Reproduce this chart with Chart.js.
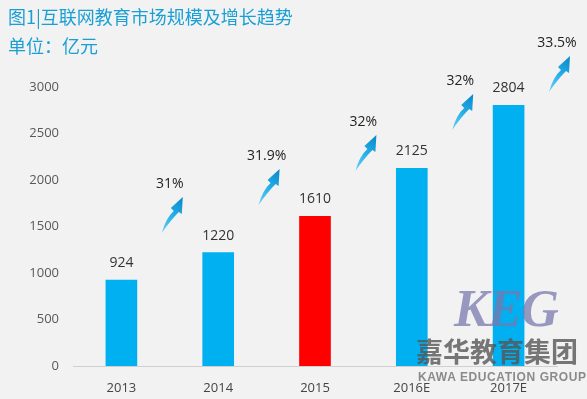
<!DOCTYPE html>
<html>
<head>
<meta charset="utf-8">
<script src="https://cdn.jsdelivr.net/npm/chart.js@4/dist/chart.umd.min.js"></script>
<style>
	body { margin: 0; background: #f2f2f2; }
	#wrap { position: relative; width: 587px; height: 399px; overflow: hidden; }
	#chart { position: absolute; left: 0; top: 0; }
	.ttl { position: absolute; left: 8px; color: #1a9fd5; font-family: "Noto Sans CJK SC", sans-serif; font-size: 18px; white-space: nowrap; }
	.wm { position: absolute; white-space: nowrap; pointer-events: none; }
</style>
</head>
<body>
<div id="wrap">
	<canvas id="chart" width="587" height="399"></canvas>
	<div class="ttl" style="top:3px;">图1|互联网教育市场规模及增长趋势</div>
	<div class="ttl" style="top:32px;">单位：亿元</div>
	<div class="wm" style="left:454px;top:279px;font:italic bold 52px 'Liberation Serif';color:rgba(120,120,175,0.75);letter-spacing:-1px;">KEG</div>
	<div class="wm" style="left:416px;top:331px;font:bold 27px 'Noto Sans CJK SC';color:rgba(85,85,85,0.8);">嘉华教育集团</div>
	<div class="wm" style="left:418px;top:370px;font:bold 12px 'Liberation Sans';color:rgba(120,120,120,0.85);letter-spacing:0.6px;">KAWA EDUCATION GROUP</div>
</div>
<script>
var years = ["2013", "2014", "2015", "2016E", "2017E"];
var marketSize = [924, 1220, 1610, 2125, 2804];
var growthLabels = ["31%", "31.9%", "32%", "32%", "33.5%"];
var yTicks = [0, 500, 1000, 1500, 2000, 2500, 3000];

var barColors = [];
for (var i = 0; i < years.length; i++) {
	barColors.push(years[i] == "2015" ? "#ff0000" : "#00b0f0");
}

// value labels above bars
var valueLabels = {
	id: "valueLabels",
	afterDatasetsDraw: function (chart) {
		var ctx = chart.ctx;
		var meta = chart.getDatasetMeta(0);
		ctx.save();
		ctx.font = "14px 'Open Sans'";
		ctx.fillStyle = "#333333";
		ctx.textAlign = "center";
		ctx.textBaseline = "middle";
		meta.data.forEach(function (bar, i) {
			ctx.fillText(marketSize[i], bar.x, bar.y - 17);
		});
		ctx.restore();
	}
};

// growth arrows between bars
var growthArrows = {
	id: "growthArrows",
	afterDraw: function (chart) {
		var ctx = chart.ctx;
		var xs = chart.scales.x;
		var ys = chart.scales.y;
		var step = xs.getPixelForValue(1) - xs.getPixelForValue(0);
		var levels = [1957, 2258, 2624, 3065, 3473];
		ctx.save();
		for (var i = 0; i < growthLabels.length; i++) {
			var cx = xs.getPixelForValue(i) + step / 2;
			var cy = ys.getPixelForValue(levels[i]);

			var g = ctx.createLinearGradient(cx - 7, cy + 49, cx + 13, cy + 13);
			g.addColorStop(0, "#6fd0f7");
			g.addColorStop(0.5, "#22aee8");
			g.addColorStop(1, "#0b86c8");
			ctx.fillStyle = g;
			ctx.beginPath();
			ctx.moveTo(cx - 8, cy + 49);
			ctx.quadraticCurveTo(cx - 4, cy + 34, cx + 4, cy + 27);
			ctx.lineTo(cx + 1, cy + 24);
			ctx.lineTo(cx + 13, cy + 13);
			ctx.lineTo(cx + 12, cy + 30);
			ctx.lineTo(cx + 9, cy + 28);
			ctx.quadraticCurveTo(cx + 1, cy + 36, cx - 8, cy + 49);
			ctx.closePath();
			ctx.fill();

			ctx.font = "14px 'Open Sans'";
			ctx.fillStyle = "#222222";
			ctx.textAlign = "center";
			ctx.textBaseline = "middle";
			ctx.fillText(growthLabels[i], cx, cy);
		}
		ctx.restore();
	}
};

var bgPlugin = {
	id: "bg",
	beforeDraw: function (chart) {
		var ctx = chart.ctx;
		ctx.save();
		ctx.fillStyle = "#f2f2f2";
		ctx.fillRect(0, 0, chart.width, chart.height);
		ctx.restore();
	}
};

var ctxa = document.getElementById("chart").getContext("2d");
var barChart = new Chart(ctxa, {
	type: "bar",
	data: {
		labels: years,
		datasets: [
			{
				label: "市场规模",
				data: marketSize,
				backgroundColor: barColors,
				barThickness: 31
			}
		]
	},
	options: {
		responsive: false,
		animation: false,
		layout: { padding: { top: 87, right: 30, left: 0, bottom: 0 } },
		plugins: {
			legend: { display: false },
			tooltip: { enabled: false }
		},
		scales: {
			x: {
				grid: { display: false },
				border: { display: true, color: "#d0d0d0", width: 1 },
				ticks: { color: "#444444", font: { family: "Open Sans", size: 13 }, padding: 6 },
				afterFit: function (s) { s.height = 33; }
			},
			y: {
				min: 0,
				max: 3000,
				afterBuildTicks: function (s) { s.ticks = yTicks.map(function (v) { return { value: v }; }); },
				grid: { display: false, drawTicks: false },
				border: { display: false },
				ticks: {
					color: "#595959",
					font: { family: "Open Sans", size: 13 },
					padding: 14,
					callback: function (v) { return String(v); }
				},
				afterFit: function (s) { s.width = 73; }
			}
		}
	},
	plugins: [bgPlugin, valueLabels, growthArrows]
});
</script>
</body>
</html>
